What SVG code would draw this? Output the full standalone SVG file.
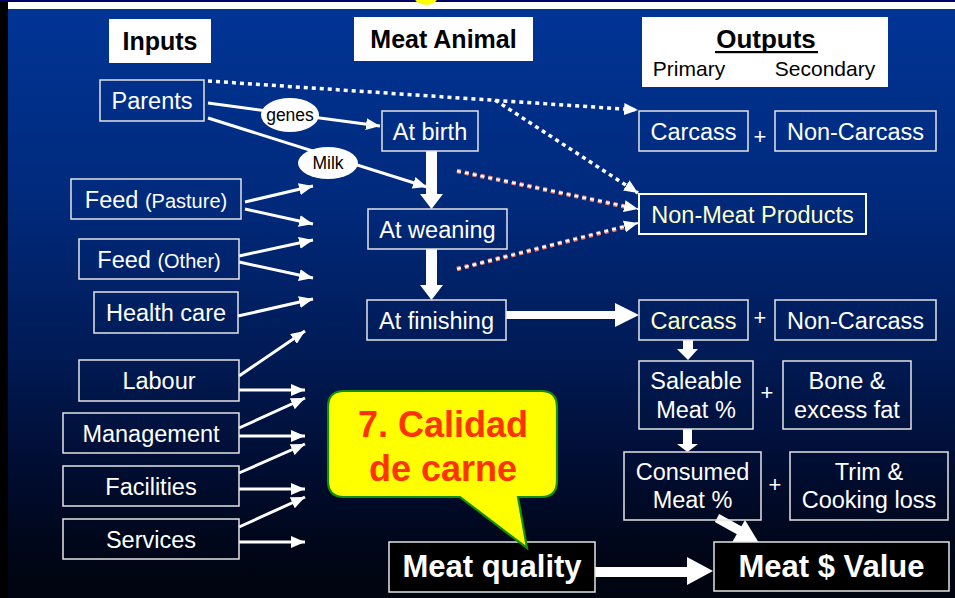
<svg xmlns="http://www.w3.org/2000/svg" width="955" height="598" viewBox="0 0 955 598">
<defs>
<linearGradient id="bg" x1="0" y1="0" x2="0" y2="1">
<stop offset="0" stop-color="#003597"/>
<stop offset="0.35" stop-color="#00297a"/>
<stop offset="0.6" stop-color="#001a54"/>
<stop offset="0.8" stop-color="#000c2e"/>
<stop offset="0.96" stop-color="#000512"/>
</linearGradient>
<marker id="ah" markerUnits="userSpaceOnUse" markerWidth="14" markerHeight="12" refX="14" refY="6" orient="auto" viewBox="0 0 14 12"><path d="M0,0 L14,6 L0,12 z" fill="#fff"/></marker>
<style>
.box{fill:none;stroke:#e4e4e4;stroke-width:1.5}
.wbox{fill:#fff;stroke:none}
.kbox{fill:#000;stroke:#e4e4e4;stroke-width:1.5}
.t{font-family:"Liberation Sans",Arial,Helvetica,sans-serif;font-size:23.5px;fill:#fff;text-anchor:middle}
.y{fill:#ffffc8}
.b{font-weight:bold}
.k{fill:#000}
.red{fill:#ff3300}
.s16{font-size:17.5px}
.s21{font-size:21px}
.s22{font-size:22px}
.s25{font-size:25px}
.s26{font-size:26px}
.s31{font-size:31px}
.s36{font-size:36px}
.thin{stroke:#fff;stroke-width:3;fill:none;marker-end:url(#ah)}
.dot{stroke:#fff;stroke-width:3.5;stroke-dasharray:4 4;fill:none;marker-end:url(#ah)}
.sal{stroke:#f07e6e;stroke-width:4.5;stroke-dasharray:4 4;fill:none}
.salw{stroke:#fff;stroke-width:2.2;stroke-dasharray:4 4;fill:none;marker-end:url(#ah)}
.thick{fill:#fff}
</style>
</defs>
<rect x="0" y="0" width="955" height="598" fill="url(#bg)"/>
<rect x="0" y="0" width="955" height="2" fill="#000066"/>
<rect x="8" y="2" width="947" height="7" fill="#fff"/>
<rect x="0" y="2" width="8" height="596" fill="#000"/>
<ellipse cx="426" cy="-4" rx="12" ry="9" fill="#ffff00"/>

<g id="connectors">
<line class="thin" x1="208" y1="103" x2="380" y2="126"/>
<line class="thin" x1="208" y1="118" x2="427" y2="187"/>
<line class="dot" x1="208" y1="81" x2="638" y2="110"/>
<line class="dot" x1="495" y1="100" x2="638" y2="193"/>
<line class="sal" x1="457" y1="171" x2="632" y2="208"/>
<line class="salw" x1="457" y1="171" x2="638" y2="209"/>
<line class="sal" x1="457" y1="269" x2="632" y2="225"/>
<line class="salw" x1="457" y1="269" x2="638" y2="223"/>
<line class="thin" x1="245" y1="202" x2="313" y2="186"/>
<line class="thin" x1="245" y1="209" x2="313" y2="224"/>
<line class="thin" x1="239" y1="256" x2="313" y2="240"/>
<line class="thin" x1="239" y1="262" x2="313" y2="278"/>
<line class="thin" x1="238" y1="316" x2="313" y2="299"/>
<line class="thin" x1="239" y1="376" x2="305" y2="331"/>
<line class="thin" x1="239" y1="390" x2="305" y2="390"/>
<line class="thin" x1="239" y1="428" x2="305" y2="398"/>
<line class="thin" x1="239" y1="436" x2="305" y2="436"/>
<line class="thin" x1="239" y1="473" x2="305" y2="444"/>
<line class="thin" x1="239" y1="489" x2="305" y2="489"/>
<line class="thin" x1="239" y1="527" x2="305" y2="497"/>
<line class="thin" x1="239" y1="542" x2="305" y2="542"/>
<polygon class="thick" points="426,151 437,151 437,194 443,194 431.5,209 420,194 426,194"/>
<polygon class="thick" points="426,249 437,249 437,285 443,285 431.5,300 420,285 426,285"/>
<polygon class="thick" points="506,311 615,311 615,303 639,315 615,327 615,319 506,319"/>
<polygon class="thick" points="683,340 693,340 693,349 698,349 688,360 677,349 683,349"/>
<polygon class="thick" points="683,429 692,429 692,444 698,444 687.5,452 677,444 683,444"/>
<polygon class="thick" points="595,567 687,567 687,557 713,571 687,585 687,577 595,577"/>
<line x1="717" y1="518" x2="744" y2="533" stroke="#fff" stroke-width="9"/>
<polygon class="thick" points="745,520 762,548 727,551"/>
</g>

<g id="inputs-title"><rect class="wbox" x="109" y="19" width="102" height="44"/><text class="t b k s25" x="160" y="50">Inputs</text></g>
<g id="meat-animal-title"><rect class="wbox" x="354" y="17" width="179" height="44"/><text class="t b k s25" x="443.5" y="48">Meat Animal</text></g>
<g id="outputs-title"><rect class="wbox" x="642" y="17" width="246" height="70"/><text class="t b k s26" x="766" y="48">Outputs</text><rect x="715" y="51" width="103" height="2.2" fill="#000"/><text class="t k s21" x="689" y="76">Primary</text><text class="t k s21" x="825" y="76">Secondary</text></g>

<g id="parents"><rect class="box" x="100" y="80" width="104" height="41"/><text class="t" x="152" y="109">Parents</text></g>
<g id="genes"><ellipse cx="290" cy="115" rx="29" ry="17" fill="#fff"/><text class="t k s16" x="290" y="121">genes</text></g>
<g id="milk"><ellipse cx="328" cy="163" rx="30" ry="16" fill="#fff"/><text class="t k s16" x="328" y="169">Milk</text></g>
<g id="feed-pasture"><rect class="box" x="71" y="179" width="170" height="40"/><text class="t" x="156" y="207.5">Feed <tspan font-size="20">(Pasture)</tspan></text></g>
<g id="feed-other"><rect class="box" x="79" y="239" width="160" height="40"/><text class="t" x="159" y="267.5">Feed <tspan font-size="20">(Other)</tspan></text></g>
<g id="health-care"><rect class="box" x="94" y="292" width="144" height="41"/><text class="t" x="166" y="321">Health care</text></g>
<g id="labour"><rect class="box" x="79" y="360" width="160" height="41"/><text class="t" x="159" y="389">Labour</text></g>
<g id="management"><rect class="box" x="63" y="413" width="176" height="40"/><text class="t" x="151" y="441.5">Management</text></g>
<g id="facilities"><rect class="box" x="63" y="466" width="176" height="40"/><text class="t" x="151" y="494.5">Facilities</text></g>
<g id="services"><rect class="box" x="63" y="519" width="176" height="40"/><text class="t" x="151" y="547.5">Services</text></g>

<g id="at-birth"><rect class="box" x="382" y="111" width="96" height="40"/><text class="t" x="430" y="139.5">At birth</text></g>
<g id="at-weaning"><rect class="box" x="368" y="209" width="139" height="40"/><text class="t" x="437.5" y="237.5">At weaning</text></g>
<g id="at-finishing"><rect class="box" x="367" y="300" width="139" height="40"/><text class="t" x="436.5" y="328.5">At finishing</text></g>

<g id="carcass-1"><rect class="box" x="639" y="111" width="109" height="40"/><text class="t" x="693.5" y="139.5">Carcass</text></g>
<g id="plus-1"><text class="t s22" x="760" y="144">+</text></g>
<g id="non-carcass-1"><rect class="box" x="775" y="111" width="161" height="40"/><text class="t" x="855.5" y="139.5">Non-Carcass</text></g>
<g id="non-meat-products"><rect class="box" x="639" y="194" width="227" height="40" style="stroke:#fff;stroke-width:2"/><text class="t y" x="752.5" y="222.5">Non-Meat Products</text></g>
<g id="carcass-2"><rect class="box" x="639" y="300" width="109" height="40"/><text class="t y" x="693.5" y="328.5">Carcass</text></g>
<g id="plus-2"><text class="t s22" x="760" y="325">+</text></g>
<g id="non-carcass-2"><rect class="box" x="775" y="300" width="161" height="40"/><text class="t" x="855.5" y="328.5">Non-Carcass</text></g>
<g id="saleable-meat"><rect class="box" x="639" y="361" width="114" height="68"/><text class="t" x="696" y="389">Saleable</text><text class="t" x="696" y="418">Meat %</text></g>
<g id="plus-3"><text class="t s22" x="767" y="400">+</text></g>
<g id="bone-fat"><rect class="box" x="783" y="361" width="128" height="68"/><text class="t" x="847" y="389">Bone &amp;</text><text class="t" x="847" y="418">excess fat</text></g>
<g id="consumed-meat"><rect class="box" x="624" y="452" width="137" height="68"/><text class="t" x="692.5" y="480">Consumed</text><text class="t" x="692.5" y="508">Meat %</text></g>
<g id="plus-4"><text class="t s22" x="775" y="492">+</text></g>
<g id="trim-cooking"><rect class="box" x="790" y="452" width="158" height="68"/><text class="t" x="869" y="480">Trim &amp;</text><text class="t" x="869" y="508">Cooking loss</text></g>

<g id="meat-quality"><rect class="kbox" x="389" y="542" width="206" height="50"/><text class="t b s31" x="492" y="577">Meat quality</text></g>
<g id="meat-value"><rect class="kbox" x="714" y="542" width="235" height="49"/><text class="t b s31" x="831.5" y="577">Meat $ Value</text></g>

<g id="callout"><path d="M344,391 H541 Q557,391 557,407 V481 Q557,497 541,497 H518 L527,548 L460,497 H344 Q328,497 328,481 V407 Q328,391 344,391 Z" fill="#ffff00" stroke="#109010" stroke-width="2.2"/><text class="t b red s36" x="443" y="437">7. Calidad</text><text class="t b red s36" x="443" y="481">de carne</text></g>
</svg>
